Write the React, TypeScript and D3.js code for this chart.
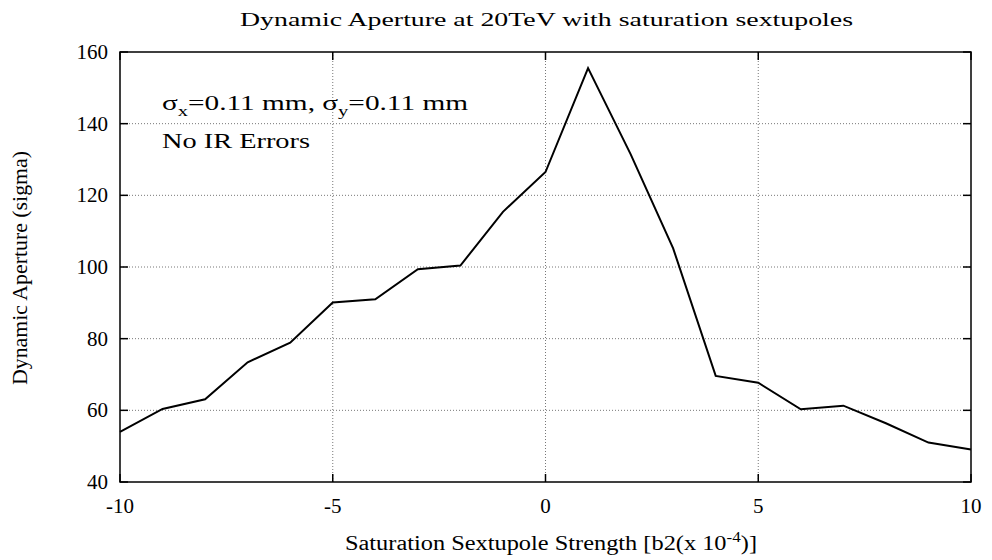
import React from "react";
import * as d3 from "d3";

const strengths = [-10, -9, -8, -7, -6, -5, -4, -3, -2, -1, 0, 1, 2, 3, 4, 5, 6, 7, 8, 9, 10];
const aperture = [54.0, 60.4, 63.1, 73.4, 78.9, 90.1, 91.0, 99.4, 100.4, 115.4, 126.5, 155.5, 131.5, 105.2, 69.6, 67.7, 60.3, 61.3, 56.4, 51.0, 49.1];
const xTicks = [-10, -5, 0, 5, 10];
const yTicks = [40, 60, 80, 100, 120, 140, 160];

const W = 992;
const H = 560;
const M = { left: 120, right: 971, top: 52, bottom: 482 };
const FONT = "Liberation Serif, Times New Roman, serif";

export default function App() {
  const x = d3.scaleLinear().domain([-10, 10]).range([M.left, M.right]);
  const y = d3.scaleLinear().domain([40, 160]).range([M.bottom, M.top]);
  const line = d3
    .line<number>()
    .x((_, i) => x(strengths[i]))
    .y((d) => y(d));
  const tickLen = 8;
  const ts = { fontFamily: FONT } as React.CSSProperties;
  return (
    <svg
      width={W}
      height={H}
      style={{ position: "absolute", left: 0, top: 0, background: "#fff" }}
    >
      <rect x={0} y={0} width={W} height={H} fill="#fff" />
      {xTicks.slice(1, -1).map((t) => (
        <line key={"gx" + t} x1={x(t)} x2={x(t)} y1={M.top} y2={M.bottom} stroke="#777" strokeWidth={1} strokeDasharray="1,2" />
      ))}
      {yTicks.slice(1, -1).map((t) => (
        <line key={"gy" + t} x1={M.left} x2={M.right} y1={y(t)} y2={y(t)} stroke="#777" strokeWidth={1} strokeDasharray="1,2" />
      ))}
      {xTicks.map((t) => (
        <g key={"tx" + t}>
          <line x1={x(t)} x2={x(t)} y1={M.bottom} y2={M.bottom - tickLen} stroke="#000" strokeWidth={1.5} />
          <line x1={x(t)} x2={x(t)} y1={M.top} y2={M.top + tickLen} stroke="#000" strokeWidth={1.5} />
          <text x={x(t)} y={M.bottom + 31} textAnchor="middle" fontSize={21} style={ts}>
            {t}
          </text>
        </g>
      ))}
      {yTicks.map((t) => (
        <g key={"ty" + t}>
          <line x1={M.left} x2={M.left + tickLen} y1={y(t)} y2={y(t)} stroke="#000" strokeWidth={1.5} />
          <line x1={M.right} x2={M.right - tickLen} y1={y(t)} y2={y(t)} stroke="#000" strokeWidth={1.5} />
          <text x={108} y={y(t) + 7} textAnchor="end" fontSize={21} style={ts}>
            {t}
          </text>
        </g>
      ))}
      <rect x={M.left} y={M.top} width={M.right - M.left} height={M.bottom - M.top} fill="none" stroke="#000" strokeWidth={1.5} />
      <path d={line(aperture) || ""} fill="none" stroke="#000" strokeWidth={2} strokeLinejoin="miter" />
      <text x={240} y={26} fontSize={19} style={ts} textLength={613} lengthAdjust="spacingAndGlyphs">
        Dynamic Aperture at 20TeV with saturation sextupoles
      </text>
      <text x={162} y={110} fontSize={20} style={ts} textLength={306} lengthAdjust="spacingAndGlyphs">
        σ<tspan fontSize={14} dy={6}>x</tspan>
        <tspan dy={-6}>=0.11 mm, σ</tspan>
        <tspan fontSize={14} dy={6}>y</tspan>
        <tspan dy={-6}>=0.11 mm</tspan>
      </text>
      <text x={162} y={148} fontSize={20} style={ts} textLength={148} lengthAdjust="spacingAndGlyphs">
        No IR Errors
      </text>
      <text x={345} y={550} fontSize={20} style={ts} textLength={412} lengthAdjust="spacingAndGlyphs">
        Saturation Sextupole Strength [b2(x 10<tspan fontSize={14} dy={-8}>-4</tspan>
        <tspan dy={8}>)]</tspan>
      </text>
      <text transform={`translate(27, 268) rotate(-90)`} textAnchor="middle" fontSize={20} style={ts} textLength={234} lengthAdjust="spacingAndGlyphs">
        Dynamic Aperture (sigma)
      </text>
    </svg>
  );
}
